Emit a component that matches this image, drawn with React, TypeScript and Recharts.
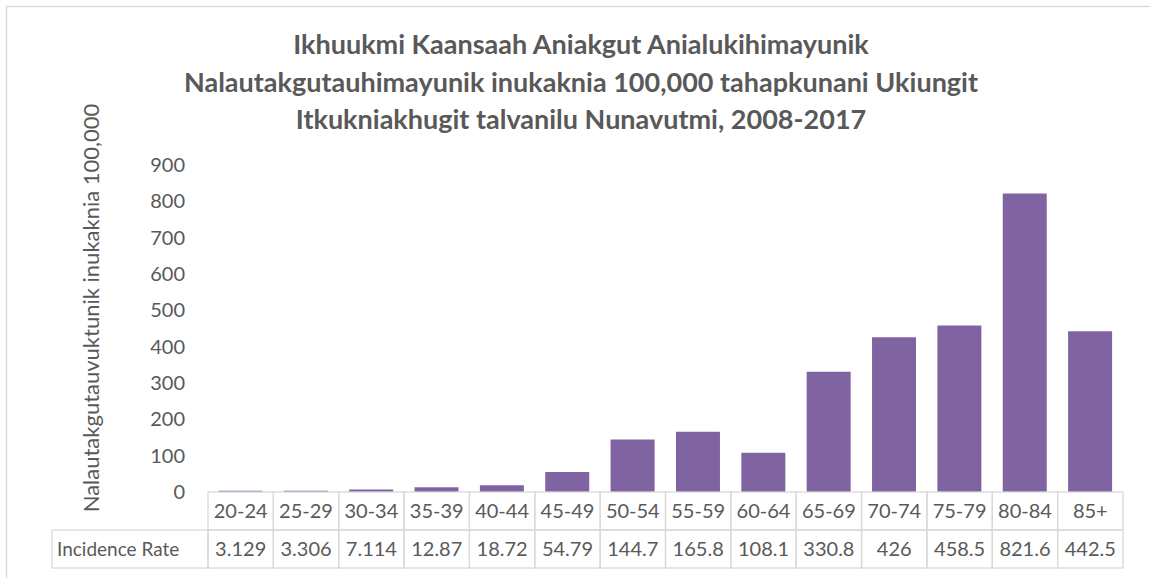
import React from 'react'
import { BarChart, Bar, XAxis, YAxis } from 'recharts'

const categories = ['20-24', '25-29', '30-34', '35-39', '40-44', '45-49', '50-54', '55-59', '60-64', '65-69', '70-74', '75-79', '80-84', '85+']
const rates = [3.129, 3.306, 7.114, 12.87, 18.72, 54.79, 144.7, 165.8, 108.1, 330.8, 426, 458.5, 821.6, 442.5]
const rateLabels = ['3.129', '3.306', '7.114', '12.87', '18.72', '54.79', '144.7', '165.8', '108.1', '330.8', '426', '458.5', '821.6', '442.5']
const yTicks = [0, 100, 200, 300, 400, 500, 600, 700, 800, 900]
const titleLines = [
  'Ikhuukmi Kaansaah Aniakgut Anialukihimayunik',
  'Nalautakgutauhimayunik inukaknia 100,000 tahapkunani Ukiungit',
  'Itkukniakhugit talvanilu Nunavutmi, 2008-2017',
]
const yLabel = 'Nalautakgutauvuktunik inukaknia 100,000'
const rowLabel = 'Incidence Rate'

const data = categories.map((c, i) => ({ name: c, rate: rates[i], label: rateLabels[i] }))

const W = 1150
const H = 578
const PLOT_LEFT = 208
const PLOT_RIGHT = 1123
const ROW_H = 38
const TABLE_LEFT = 52
const FONT = 'Lato, "Open Sans", sans-serif'
const TEXT = '#595959'
const GRID = '#d9d9d9'

const band = (PLOT_RIGHT - PLOT_LEFT) / categories.length

function TableTick(props: any) {
  const { x, y, payload, index } = props
  const left = x - band / 2
  const i = index ?? categories.indexOf(payload.value)
  return (
    <g>
      <rect x={left} y={y} width={band} height={ROW_H} fill="none" stroke={GRID} strokeWidth={1.3} />
      <rect x={left} y={y + ROW_H} width={band} height={ROW_H} fill="none" stroke={GRID} strokeWidth={1.3} />
      <text x={x} y={y + ROW_H / 2 + 7} textAnchor="middle" fill={TEXT} fontSize={20} fontFamily={FONT}>
        {payload.value}
      </text>
      <text x={x} y={y + ROW_H * 1.5 + 7} textAnchor="middle" fill={TEXT} fontSize={20} fontFamily={FONT}>
        {rateLabels[i]}
      </text>
      {i === 0 && (
        <g>
          <rect x={TABLE_LEFT} y={y + ROW_H} width={left - TABLE_LEFT} height={ROW_H} fill="none" stroke={GRID} strokeWidth={1.3} />
          <text x={TABLE_LEFT + 5} y={y + ROW_H * 1.5 + 7} textAnchor="start" fill={TEXT} fontSize={19} fontFamily={FONT}>
            {rowLabel}
          </text>
        </g>
      )}
    </g>
  )
}

export default function App() {
  return (
    <div style={{ position: 'absolute', left: 0, top: 0, width: W, height: H, background: '#fff' }}>
      <BarChart
        width={W}
        height={H}
        data={data}
        margin={{ top: 165, right: W - PLOT_RIGHT, left: 0, bottom: 0 }}
        barCategoryGap="16%"
      >
        <YAxis
          width={PLOT_LEFT}
          domain={[0, 900]}
          ticks={yTicks}
          interval={0}
          tickLine={false}
          axisLine={false}
          tickSize={0}
          tickMargin={23}
          tick={{ fill: TEXT, fontSize: 20, fontFamily: FONT }}
        />
        <XAxis
          dataKey="name"
          height={86}
          interval={0}
          tickLine={false}
          axisLine={false}
          tickSize={0}
          tickMargin={0}
          tick={<TableTick />}
        />
        <Bar dataKey="rate" fill="#8064A2" isAnimationActive={false} />
      </BarChart>
      <svg width={W} height={H} style={{ position: 'absolute', left: 0, top: 0, pointerEvents: 'none' }}>
        <rect x={6.5} y={6.5} width={W + 10} height={H + 10} fill="none" stroke={GRID} strokeWidth={1.3} />
        {titleLines.map((t, i) => (
          <text key={i} x={581} y={54 + i * 37.5} textAnchor="middle" fill={TEXT} fontSize={27} fontWeight="bold" fontFamily={FONT}>
            {t}
          </text>
        ))}
        <text
          transform="translate(99, 308) rotate(-90)"
          textAnchor="middle"
          fill={TEXT}
          fontSize={22}
          fontFamily={FONT}
        >
          {yLabel}
        </text>
      </svg>
    </div>
  )
}
